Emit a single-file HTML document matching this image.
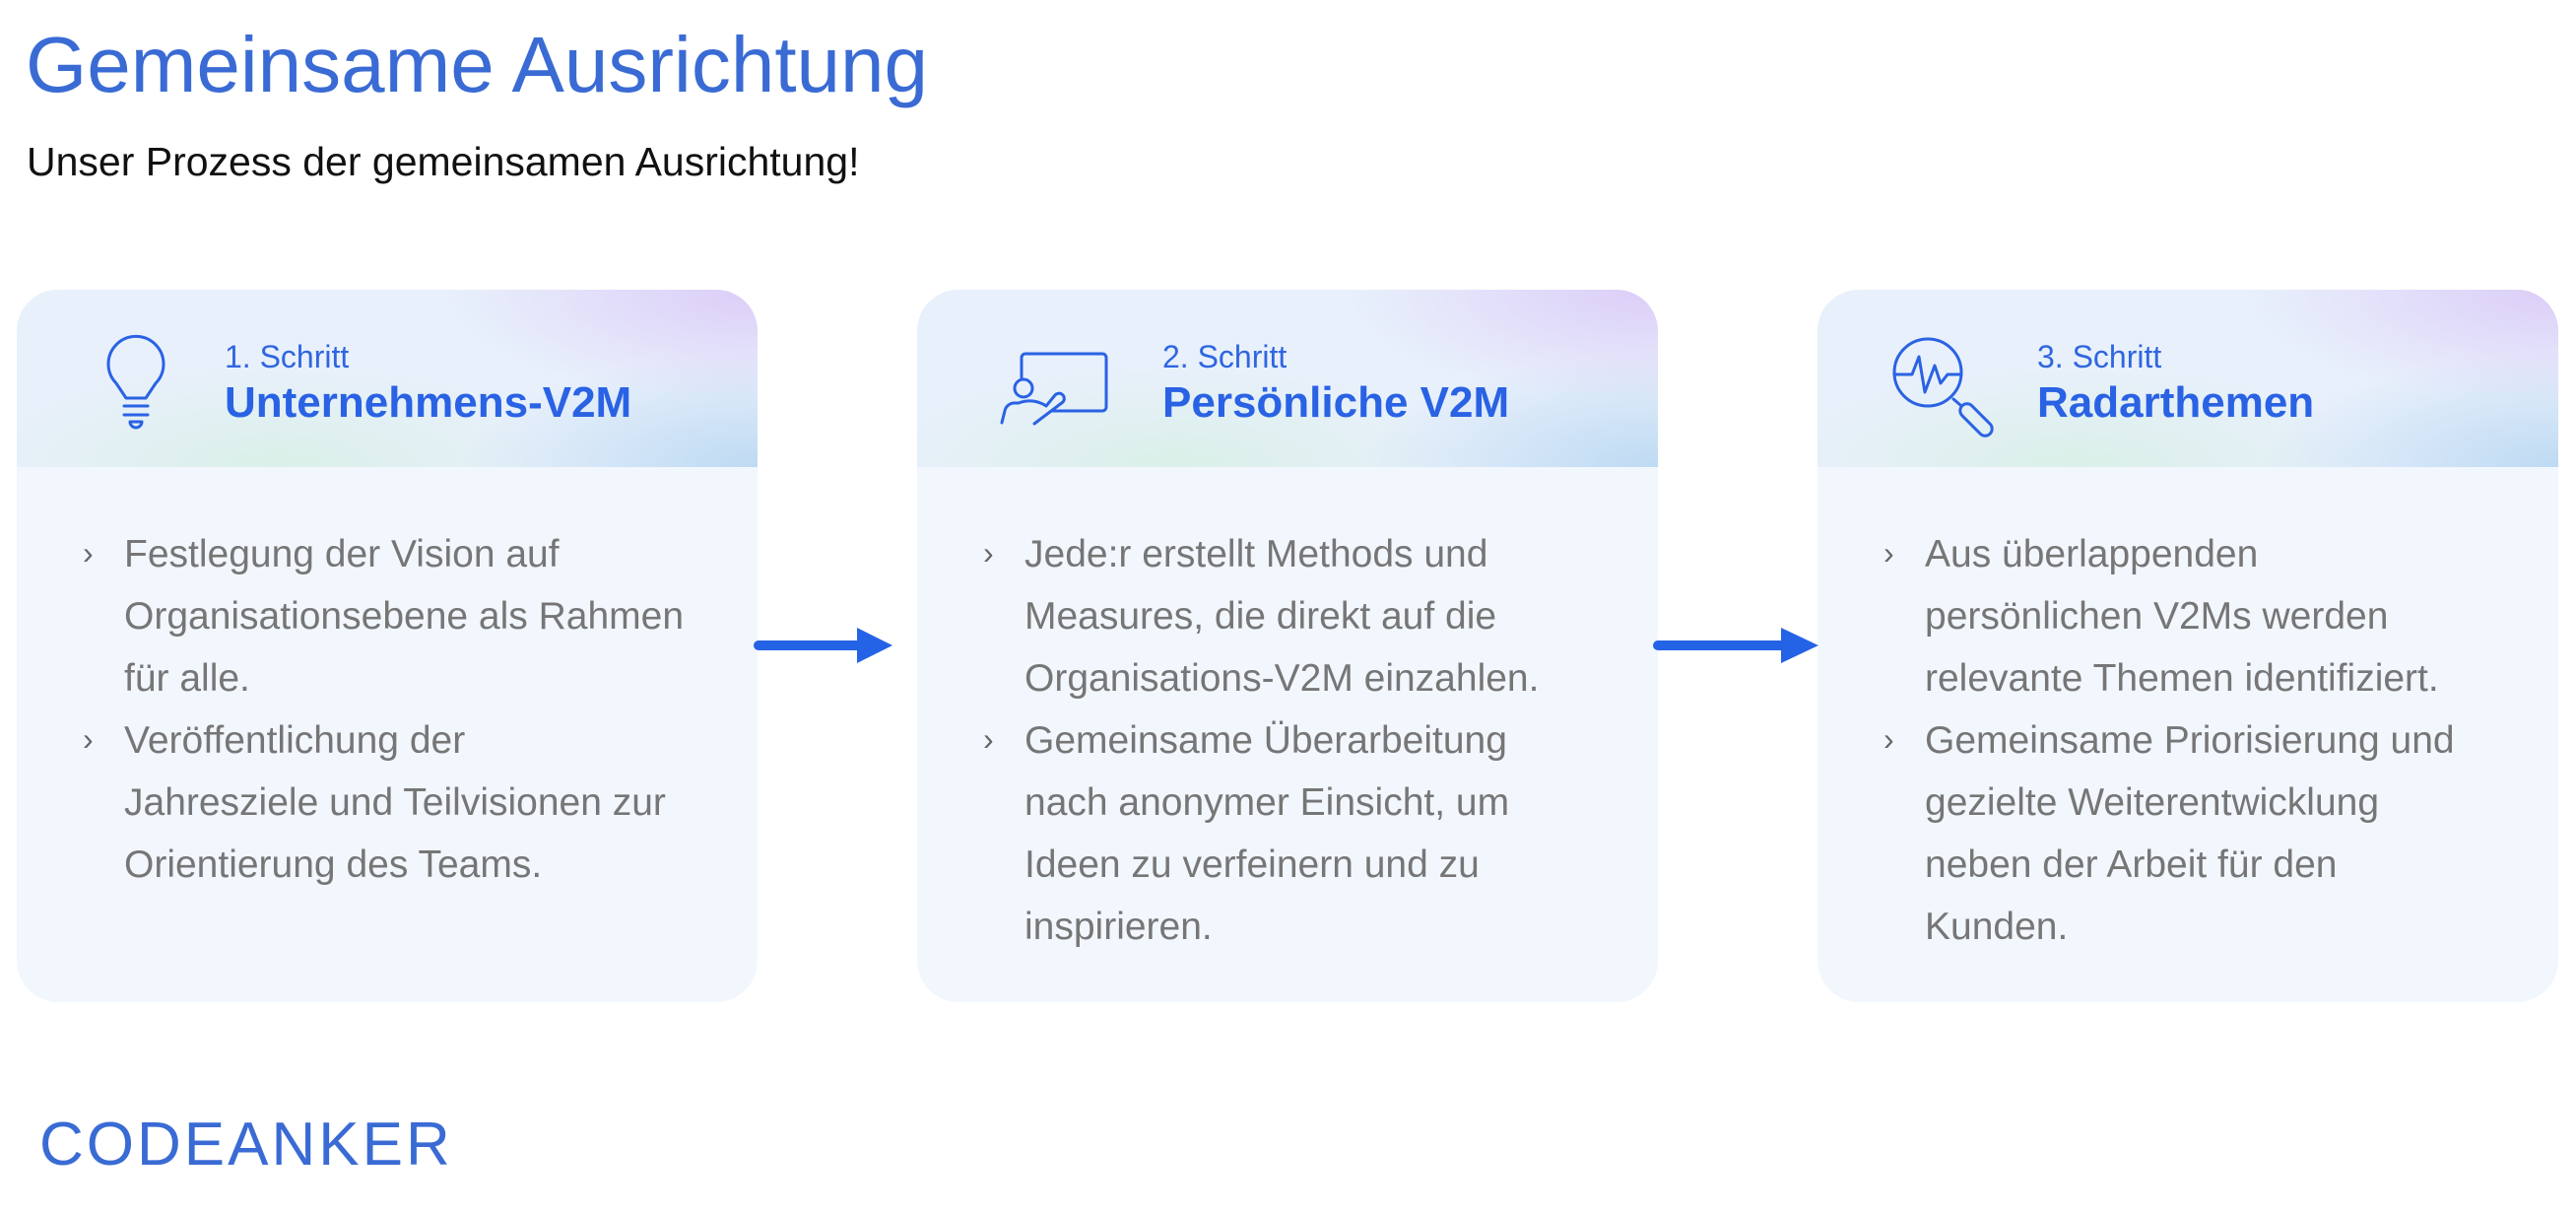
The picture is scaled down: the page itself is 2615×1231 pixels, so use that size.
<!DOCTYPE html>
<html><head><meta charset="utf-8"><style>
body{margin:0;width:2615px;height:1231px;background:#fff;position:relative;overflow:hidden;font-family:"Liberation Sans",sans-serif}
.t{position:absolute;white-space:nowrap}
.card{position:absolute;top:294px;width:752px;height:723px;border-radius:42px;overflow:hidden;background:#f2f7fd}
.hd{position:absolute;left:0;top:0;width:100%;height:180px;
background:radial-gradient(ellipse 60% 90% at 100% 0%,rgba(220,205,248,1),rgba(220,205,248,0) 70%),
radial-gradient(ellipse 50% 80% at 100% 100%,rgba(190,218,243,1),rgba(190,218,243,0) 80%),
radial-gradient(ellipse 50% 70% at 35% 100%,rgba(218,240,232,1),rgba(218,240,232,0) 80%),#e8f0fb}
.s1{position:absolute;left:211px;top:50px;font-size:32px;color:#2f66e0}
.s2{position:absolute;left:211px;top:90px;font-size:44px;font-weight:bold;color:#2a62e4}
.bl{position:absolute;left:67px;top:237px;font-size:39px;line-height:63px;color:#767676;white-space:nowrap}
.bl div{position:relative;padding-left:42px}
.bl div:before{content:"›";position:absolute;left:0;top:-1px;font-size:32px;color:#666}
</style></head><body>
<div class="t" style="left:26px;top:20px;font-size:80px;color:#3a6bd4">Gemeinsame Ausrichtung</div>
<div class="t" style="left:27px;top:141px;font-size:41px;color:#111">Unser Prozess der gemeinsamen Ausrichtung!</div>

<div class="card" style="left:17px"><div class="hd"></div>
<div class="s1">1. Schritt</div><div class="s2">Unternehmens-V2M</div>
<div class="bl"><div>Festlegung der Vision auf<br>Organisationsebene als Rahmen<br>für alle.</div><div>Veröffentlichung der<br>Jahresziele und Teilvisionen zur<br>Orientierung des Teams.</div></div>
</div>
<div class="card" style="left:931px"><div class="hd"></div>
<div class="s1" style="left:249px">2. Schritt</div><div class="s2" style="left:249px">Persönliche V2M</div>
<div class="bl"><div>Jede:r erstellt Methods und<br>Measures, die direkt auf die<br>Organisations-V2M einzahlen.</div><div>Gemeinsame Überarbeitung<br>nach anonymer Einsicht, um<br>Ideen zu verfeinern und zu<br>inspirieren.</div></div>
</div>
<div class="card" style="left:1845px"><div class="hd"></div>
<div class="s1" style="left:223px">3. Schritt</div><div class="s2" style="left:223px">Radarthemen</div>
<div class="bl"><div>Aus überlappenden<br>persönlichen V2Ms werden<br>relevante Themen identifiziert.</div><div>Gemeinsame Priorisierung und<br>gezielte Weiterentwicklung<br>neben der Arbeit für den<br>Kunden.</div></div>
</div>

<svg width="2615" height="1231" style="position:absolute;left:0;top:0" fill="none" stroke="#2a62e4" stroke-width="3" stroke-linecap="round" stroke-linejoin="round">
<path d="M128 404 L118 389 A28 28 0 1 1 158 389 L148 404 Z"/>
<line x1="126" y1="412" x2="150" y2="412"/><line x1="126" y1="421" x2="150" y2="421"/>
<path d="M132 428 L144 428 A6 6 0 0 1 132 428"/>
<path d="M1037 383 V363 a4 4 0 0 1 4 -4 H1119 a4 4 0 0 1 4 4 V413 a4 4 0 0 1 -4 4 H1068"/>
<circle cx="1039" cy="394" r="9"/>
<path d="M1017 429 L1020 417 a10 10 0 0 1 10 -8 h4 a30 30 0 0 1 28 3 L1071 401 a5 5 0 0 1 8 7 L1050 430"/>
<circle cx="1957" cy="378" r="34"/>
<path d="M1923 380 H1941 L1948 362 L1954 398 L1964 371 L1970 389 L1977 380 H1991"/>
<path d="M1983 405 L1990 411"/>
<rect x="1986" y="419" width="40" height="14" rx="7" transform="rotate(45 2006 426)"/>
<g stroke="none" fill="#2563e6">
<rect x="765" y="650" width="110" height="10" rx="5"/><path d="M870 637 L906 655 L870 673 Z"/>
<rect x="1678" y="650" width="135" height="10" rx="5"/><path d="M1808 637 L1846 655 L1808 673 Z"/>
</g>
</svg>
<div class="t" style="left:40px;top:1126px;font-size:62px;letter-spacing:3px;color:#3a6bd4">CODEANKER</div>
</body></html>
